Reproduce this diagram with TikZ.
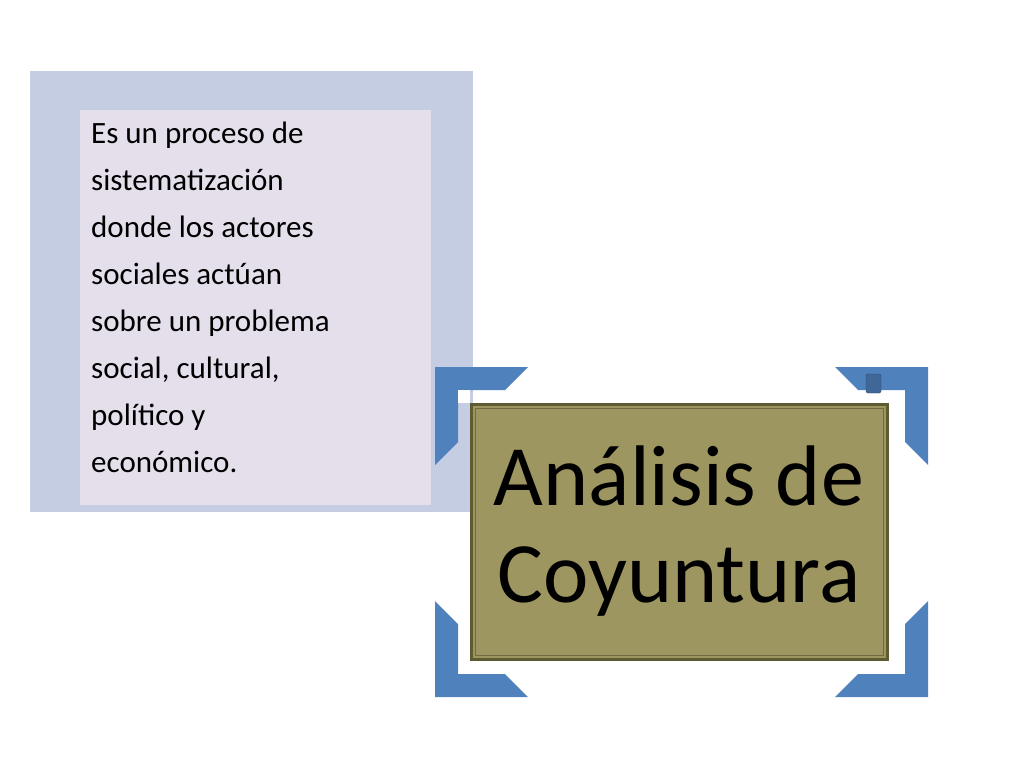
\documentclass[tikz,border=0pt]{standalone}
\usepackage{fontspec}
\setmainfont{Carlito}
\begin{document}
\begin{tikzpicture}[x=1pt,y=-1pt,
  bracket/.style={fill=brk,draw=none},
  small/.style={font=\fontsize{31}{47}\selectfont,align=left,anchor=north west,inner sep=0pt},
  big/.style={font=\fontsize{86}{97}\selectfont,align=center}]
\definecolor{brk}{HTML}{4F81BD}
\definecolor{outerp}{HTML}{C4CDE1}
\definecolor{innerp}{HTML}{E5DFEC}
\definecolor{olive}{HTML}{9E9660}
\definecolor{oliveb}{HTML}{5E5A32}
\useasboundingbox (0,0) rectangle (1024,768);
\fill[white] (0,0) rectangle (1024,768);
\fill[outerp] (30,71) rectangle (473,512);
\fill[innerp] (80,110) rectangle (431,505);
\node[small] (desc) at (91,122) {Es un proceso de\\sistematización\\donde los actores\\sociales actúan\\sobre un problema\\social, cultural,\\político y\\económico.};
\fill[bracket] (435,367) -- (528,367) -- (505,390) -- (458,390) -- (458,442) -- (435,465) -- cycle;
\fill[bracket] (928,367) -- (835,367) -- (858,390) -- (905,390) -- (905,442) -- (928,465) -- cycle;
\fill[bracket] (435,697) -- (528,697) -- (505,674) -- (458,674) -- (458,624) -- (435,601) -- cycle;
\fill[bracket] (928,697) -- (835,697) -- (858,674) -- (905,674) -- (905,624) -- (928,601) -- cycle;
\fill[white] (458,390) rectangle (470,403);
\node[draw=oliveb,line width=3pt,fill=olive,minimum width=416pt,minimum height=255pt,inner sep=0pt] (title) at (679,531.5) {};
\draw[oliveb!70!olive,line width=1pt] (475,408) rectangle (883,655);
\node[big] (t) at (679,531) {Análisis de\\Coyuntura};
\draw[fill=brk!80!black,draw=brk!60!black,rounded corners=1.5pt] (866,374) rectangle (881,393);
\end{tikzpicture}
\end{document}
